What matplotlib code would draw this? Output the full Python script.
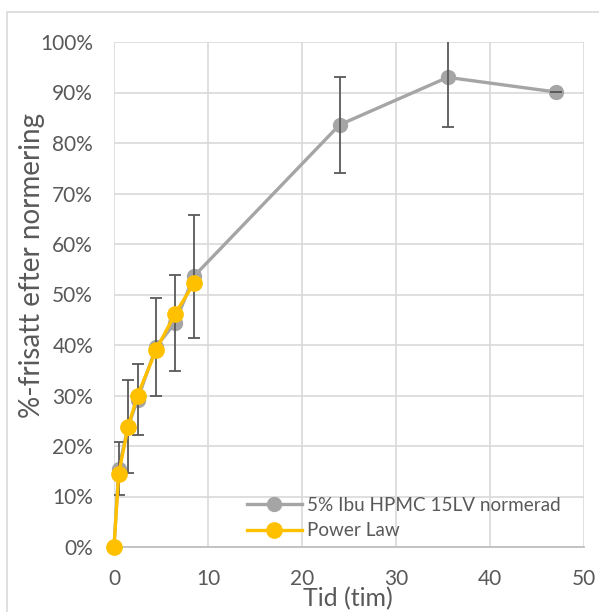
import matplotlib
matplotlib.use("Agg")
import matplotlib.pyplot as plt
from matplotlib.patches import Rectangle
from matplotlib.ticker import PercentFormatter

plt.rcParams['font.family'] = ['Lato', 'DejaVu Sans']

time_measured = [0, 0.5, 1.5, 2.5, 4.5, 6.5, 8.5, 24, 35.5, 47]
released = [0, 15.5, 23.8, 29.2, 39.7, 44.4, 53.6, 83.6, 93.0, 90.1]
released_err = [0, 5.2, 9.2, 7.0, 9.7, 9.5, 12.2, 9.5, 9.9, 0]

time_model = [0, 0.5, 1.5, 2.5, 4.5, 6.5, 8.5]
power_law = [0, 14.5, 23.8, 30.0, 39.1, 46.2, 52.2]

series_labels = ["5% Ibu HPMC 15LV normerad", "Power Law"]
x_ticks = [0, 10, 20, 30, 40, 50]
y_ticks = [0, 10, 20, 30, 40, 50, 60, 70, 80, 90, 100]

W, H = 599, 612
fig = plt.figure(figsize=(W / 100, H / 100), dpi=100)
ax = fig.add_axes([114 / W, 1 - 547 / H, (584 - 114) / W, (547 - 42) / H])

grey = "#a5a5a5"
gold = "#ffc000"
txt = "#595959"

l1, = ax.plot(time_measured, released, color=grey, lw=2.4, marker="o", ms=10,
              label=series_labels[0], zorder=3, clip_on=False)
ax.errorbar(time_measured, released, yerr=released_err, fmt="none",
            ecolor="#595959", elinewidth=1.3, capsize=4.5, capthick=1.3,
            zorder=3.5)
l2, = ax.plot(time_model, power_law, color=gold, lw=2.4, marker="o", ms=11,
              label=series_labels[1], zorder=4, clip_on=False)

ax.set_xlim(0, 50)
ax.set_ylim(0, 100)
ax.set_xticks(x_ticks)
ax.set_yticks(y_ticks)
ax.yaxis.set_major_formatter(PercentFormatter(decimals=0))
ax.grid(True, color="#d9d9d9", lw=1.2)
ax.set_axisbelow(True)
for s in ["top", "right", "left"]:
    ax.spines[s].set_visible(False)
ax.spines["bottom"].set_color("#bfbfbf")
ax.spines["bottom"].set_linewidth(1.3)
ax.tick_params(axis="both", length=0, labelsize=15, labelcolor=txt)
ax.tick_params(axis="y", pad=15)
ax.tick_params(axis="x", pad=16)

fig.text(348 / W, 1 - 599 / H, "Tid (tim)", fontsize=18, color=txt,
         ha="center", va="center")
fig.text(32 / W, 1 - 265 / H, "%-frisatt efter normering", fontsize=20,
         color=txt, ha="center", va="center", rotation=90)

ax.legend(handles=[l1, l2], loc="upper left",
          bbox_to_anchor=(247 / W, 1 - 497 / H),
          bbox_transform=fig.transFigure, frameon=False, fontsize=13.6,
          labelcolor=txt, handlelength=2.9, handletextpad=0.3,
          labelspacing=0.45, borderpad=0, borderaxespad=0)

fig.patches.append(Rectangle((7 / W, -0.05), 1.2, 1 - 12 / H + 0.05,
                             transform=fig.transFigure, fill=False,
                             edgecolor="#d9d9d9", lw=1.2))

fig.savefig("out.png", dpi=100)
